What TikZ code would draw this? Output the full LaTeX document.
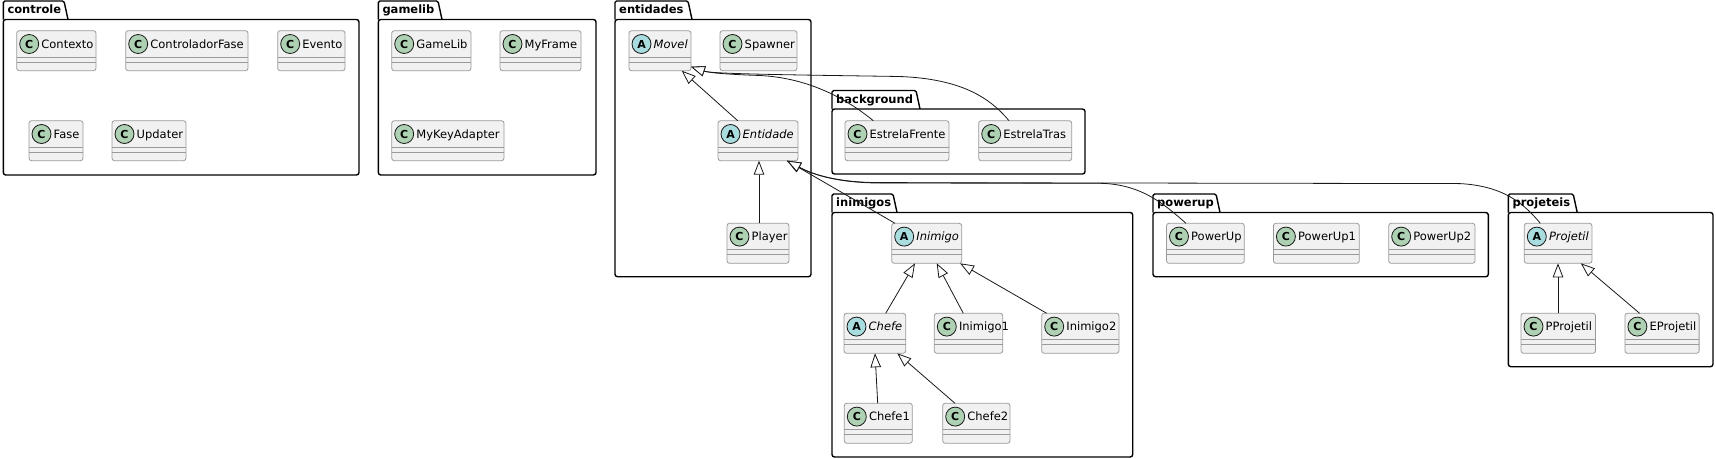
\documentclass[tikz,border=0pt]{standalone}
\usepackage{fontspec}
\setmainfont{DejaVu Sans}
\usetikzlibrary{arrows.meta,calc}
\definecolor{cfill}{HTML}{ADD1B2}
\definecolor{afill}{HTML}{A9DCDF}
\definecolor{boxfill}{HTML}{F1F1F1}
\definecolor{boxline}{HTML}{9A9A9A}
\definecolor{inkc}{HTML}{181818}

\tikzset{
  clsbox/.style={rectangle, draw=boxline, fill=boxfill, line width=0.8pt,
    rounded corners=2.5pt, minimum height=40pt, inner sep=0pt, outer sep=0pt},
  sepline/.style={draw=boxline, line width=0.8pt},
  circ/.style={circle, draw=inkc, line width=0.8pt, minimum size=19pt, inner sep=0pt,
    font=\bfseries\fontsize{11}{11}\selectfont},
  clslabel/.style={anchor=base west, inner sep=0pt, font=\fontsize{11.5}{13}\selectfont},
  pkgline/.style={draw=black, line width=1.4pt},
  pkglabel/.style={anchor=base west, inner sep=0pt, font=\bfseries\fontsize{11.5}{13}\selectfont},
  ext/.style={draw=inkc, line width=0.8pt, -{Triangle[length=14pt,width=10.5pt,fill=white]}},
}

\newcommand{\umlclass}[7]{%
  \node[clsbox, minimum width=#4, anchor=north west] (#1) at (#2,#3) {};
  \draw[sepline] ($(#1.north west)+(0,26.5)$) -- ($(#1.north east)+(0,26.5)$);
  \draw[sepline] ($(#1.north west)+(0,31.5)$) -- ($(#1.north east)+(0,31.5)$);
  \node[circ, fill=#6] (#1-icon) at ($(#1.north west)+(12.5,13.3)$) {#5};
  \node[clslabel] (#1-label) at ($(#1.north west)+(24.5,17.6)$) {#7};
}

\newcommand{\umlpackage}[7]{%
  \draw[pkgline, rounded corners=2.5pt] (#2,#4+18.5) rectangle (#5,#6);
  \draw[pkgline, rounded corners=1.5pt] (#2,#4+18.5) -- (#2,#4) -- (#3-4,#4) -- (#3,#4+18.5);
  \node[pkglabel] (#1) at (#2+4,#4+12.8) {#7};
}

\begin{document}
\begin{tikzpicture}[x=1pt,y=-1pt]
\useasboundingbox (0,0) rectangle (1716,458);

% packages
\umlpackage{pkgcontrole}{3.3}{68}{1}{359}{175}{controle}
\umlpackage{pkggamelib}{378.3}{442}{1}{596}{175}{gamelib}
\umlpackage{pkgentidades}{615}{692}{1}{811}{276.7}{entidades}
\umlpackage{pkgbackground}{832}{920}{90.5}{1085}{174}{background}
\umlpackage{pkginimigos}{832}{897}{194}{1132.7}{457}{inimigos}
\umlpackage{pkgpowerup}{1153}{1220}{194}{1488.3}{276.7}{powerup}
\umlpackage{pkgprojeteis}{1508.3}{1577.2}{194}{1713}{366.7}{projeteis}

% classes
\umlclass{Contexto}{16.7}{30.7}{79.3}{C}{cfill}{Contexto}
\umlclass{ControladorFase}{125.7}{30.7}{122.3}{C}{cfill}{ControladorFase}
\umlclass{Evento}{277.7}{30.7}{67.3}{C}{cfill}{Evento}
\umlclass{Fase}{29}{120.7}{54}{C}{cfill}{Fase}
\umlclass{Updater}{112}{120.7}{74}{C}{cfill}{Updater}

\umlclass{GameLib}{391.7}{30.7}{79.3}{C}{cfill}{GameLib}
\umlclass{MyFrame}{500}{30.7}{81}{C}{cfill}{MyFrame}
\umlclass{MyKeyAdapter}{391.7}{120.7}{112.3}{C}{cfill}{MyKeyAdapter}

\umlclass{Movel}{629}{30.7}{62}{A}{afill}{\itshape Movel}
\umlclass{Spawner}{720}{30.7}{77}{C}{cfill}{Spawner}
\umlclass{Entidade}{718}{120.7}{80}{A}{afill}{\itshape Entidade}
\umlclass{Player}{727}{223.3}{62}{C}{cfill}{Player}

\umlclass{EstrelaFrente}{845}{120.7}{104}{C}{cfill}{EstrelaFrente}
\umlclass{EstrelaTras}{978.7}{120.7}{93}{C}{cfill}{EstrelaTras}

\umlclass{Inimigo}{891.7}{223.3}{70}{A}{afill}{\itshape Inimigo}
\umlclass{Chefe}{844}{313.3}{61.7}{A}{afill}{\itshape Chefe}
\umlclass{Inimigo1}{934.3}{313.3}{68.4}{C}{cfill}{Inimigo1}
\umlclass{Inimigo2}{1041.7}{313.3}{77.3}{C}{cfill}{Inimigo2}
\umlclass{Chefe1}{844.3}{403.3}{68}{C}{cfill}{Chefe1}
\umlclass{Chefe2}{942.7}{403.3}{67.3}{C}{cfill}{Chefe2}

\umlclass{PowerUp}{1166.5}{223.3}{77.8}{C}{cfill}{PowerUp}
\umlclass{PowerUp1}{1273.4}{223.3}{85.9}{C}{cfill}{PowerUp1}
\umlclass{PowerUp2}{1388.7}{223.3}{86.3}{C}{cfill}{PowerUp2}

\umlclass{Projetil}{1524.3}{223.3}{67.6}{A}{afill}{\itshape Projetil}
\umlclass{PProjetil}{1521}{313.3}{74.5}{C}{cfill}{PProjetil}
\umlclass{EProjetil}{1624.9}{313.3}{74.2}{C}{cfill}{EProjetil}

% arrow targets
\coordinate (movelTip) at ($(Movel.south east)+(0,-4)$);
\coordinate (entTip) at ($(Entidade.south east)+(-11,0)$);

% inheritance edges
\draw[ext] ($(Entidade.north west)+(19.7,0)$) -- ($(Movel.south west)+(52.7,0)$);
\draw[ext] ($(Player.north west)+(32,0)$) -- ($(Entidade.south west)+(41,0)$);
\draw[ext] ($(Inimigo.north west)+(3.3,0)$) -- (entTip);
\draw[ext] ($(Chefe.north west)+(41.7,0)$) -- ($(Inimigo.south west)+(23.3,0)$);
\draw[ext] ($(Inimigo1.north west)+(29,0)$) -- ($(Inimigo.south west)+(45,0)$);
\draw[ext] ($(Inimigo2.north west)+(5,0)$) -- ($(Inimigo.south west)+(68.3,0)$);
\draw[ext] ($(Chefe1.north west)+(33.4,0)$) -- ($(Chefe.south west)+(31,0)$);
\draw[ext] ($(Chefe2.north west)+(12.3,0)$) -- ($(Chefe.south west)+(53.3,0)$);
\draw[ext] ($(PProjetil.north west)+(37,0)$) -- ($(Projetil.south west)+(33.7,0)$);
\draw[ext] ($(EProjetil.north west)+(14.7,0)$) -- ($(Projetil.south west)+(56.5,0)$);

\draw[ext] ($(EstrelaFrente.north west)+(28.3,0)$)
  .. controls (848,100) and (810,78) .. (760,75.5)
  .. controls (730,74.5) and (710,73) .. (movelTip);
\draw[ext] ($(EstrelaTras.north west)+(30.3,0)$)
  .. controls (990,98) and (962,79) .. (900,76.5)
  .. controls (800,75) and (712,74) .. (movelTip);

\draw[ext] ($(PowerUp.north west)+(19.5,0)$)
  .. controls (1165,205) and (1142,184) .. (1100,183.3)
  -- (880,183)
  .. controls (832,183) and (808,172) .. (entTip);
\draw[ext] ($(Projetil.north west)+(16,0)$)
  .. controls (1525,205) and (1505,186) .. (1460,183.6)
  -- (880,182.6)
  .. controls (832,182.6) and (808,172) .. (entTip);

\end{tikzpicture}
\end{document}
